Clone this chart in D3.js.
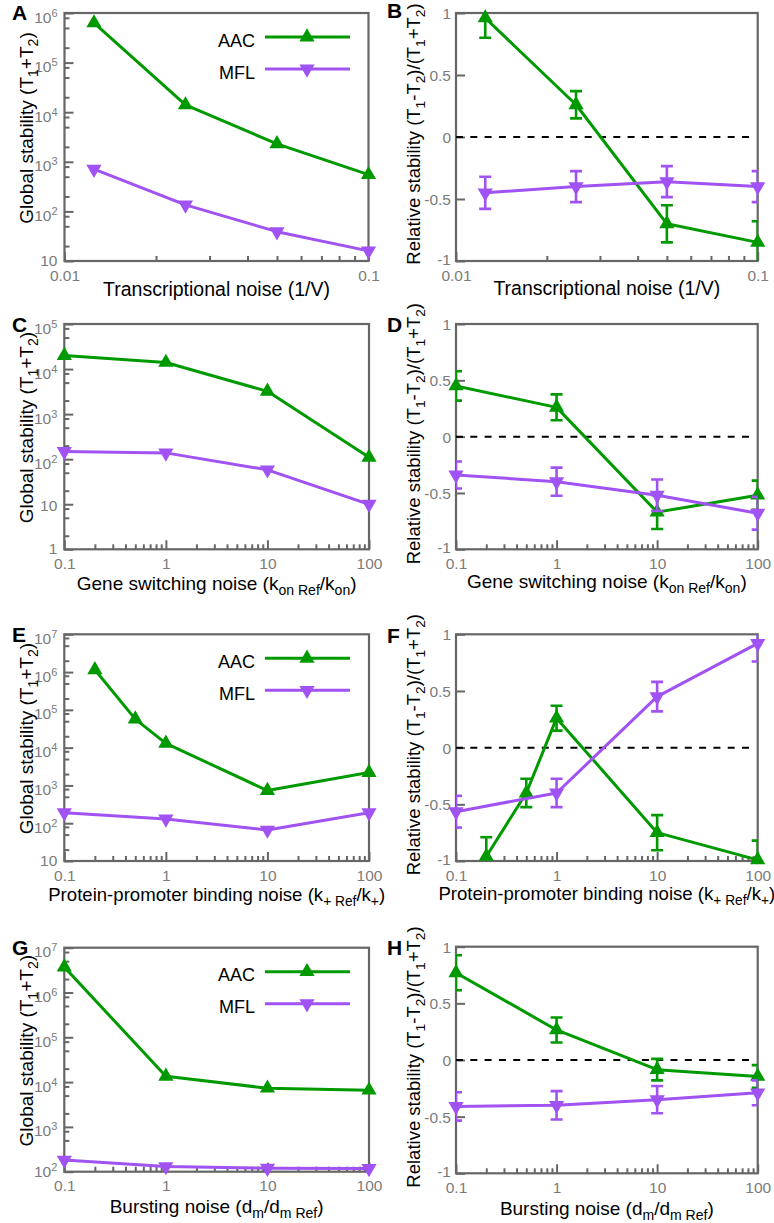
<!DOCTYPE html>
<html><head><meta charset="utf-8">
<script src="https://cdn.jsdelivr.net/npm/d3@7"></script>
<style>
body{margin:0;background:#fff}
text{font-family:"Liberation Sans",Arial,Helvetica,sans-serif;white-space:pre}
</style>
</head><body>
<svg id="c" width="774" height="1223"></svg>
<script>
// ---------------- data ----------------
const seriesNames = ["AAC", "MFL"];

// Panel A / B : transcriptional noise
const xTrans = [0.0125, 0.025, 0.05, 0.1];
const aacGlobalA = [6.3e5, 1.4e4, 2300, 550];
const mflGlobalA = [710, 135, 39, 16];
const aacRelB = [0.96, 0.26, -0.70, -0.85];
const aacErrB = [0.16, 0.11, 0.15, 0.17];
const mflRelB = [-0.45, -0.40, -0.36, -0.40];
const mflErrB = [0.13, 0.125, 0.125, 0.125];

// Panel C / D : gene switching noise
const xGene = [0.1, 1, 10, 100];
const aacGlobalC = [2.0e4, 1.4e4, 3200, 110];
const mflGlobalC = [148, 138, 58, 10];
const aacRelD = [0.45, 0.26, -0.67, -0.52];
const aacErrD = [0.13, 0.115, 0.15, 0.13];
const mflRelD = [-0.34, -0.40, -0.52, -0.68];
const mflErrD = [0.12, 0.125, 0.14, 0.145];

// Panel E / F : protein-promoter binding noise
const xProtAAC = [0.2, 0.5, 1, 10, 100];
const xProtMFL = [0.1, 1, 10, 100];
const aacGlobalE = [1.15e6, 5.7e4, 1.3e4, 730, 2200];
const mflGlobalE = [190, 130, 66, 190];
const aacRelF = [-0.96, -0.40, 0.26, -0.75, -0.99];
const aacErrF = [0.17, 0.125, 0.11, 0.155, 0.17];
const mflRelF = [-0.565, -0.40, 0.45, 0.92];
const mflErrF = [0.14, 0.125, 0.13, 0.16];

// Panel G / H : bursting noise
const xBurst = [0.1, 1, 10, 100];
const aacGlobalG = [3.7e6, 1.35e4, 7300, 6600];
const mflGlobalG = [182, 130, 120, 118];
const aacRelH = [0.77, 0.265, -0.085, -0.145];
const aacErrH = [0.155, 0.11, 0.095, 0.10];
const mflRelH = [-0.41, -0.40, -0.35, -0.29];
const mflErrH = [0.125, 0.125, 0.12, 0.11];

// tick values
const xTicksTrans = [0.01, 0.1];
const xTicksDec = [0.1, 1, 10, 100];
const yTicksRel = [-1, -0.5, 0, 0.5, 1];

// labels
const labelGlobal = [["Global stability (T","n"],["1","sub"],["+T","n"],["2","sub"],[")","n"]];
const labelRel = [["Relative stability (T","n"],["1","sub"],["-T","n"],["2","sub"],[")/(T","n"],["1","sub"],["+T","n"],["2","sub"],[")","n"]];
const xlabTrans = [["Transcriptional noise (1/V)","n"]];
const xlabGene = [["Gene switching noise (k","n"],["on Ref","sub"],["/k","n"],["on","sub"],[")","n"]];
const xlabProt = [["Protein-promoter binding noise (k","n"],["+ Ref","sub"],["/k","n"],["+","sub"],[")","n"]];
const xlabBurst = [["Bursting noise (d","n"],["m","sub"],["/d","n"],["m Ref","sub"],[")","n"]];

// ---------------- styles / layout ----------------
const GREEN = "#009a00", PURPLE = "#a052f2";
const FRAME = "#666666", TICKTXT = "#7b7b7b";

const panels = [
  {letter:"A", lx:12, ly:20, kind:"global", frame:[64.5,13,368.5,261], xd:[0.01,0.1], yd:[10,1e6], xt:xTicksTrans, xl:xlabTrans, xlY:296, xls:19.5, legend:true,
   s:[{x:xTrans,y:aacGlobalA,c:GREEN,up:true},{x:xTrans,y:mflGlobalA,c:PURPLE,up:false}]},
  {letter:"B", lx:387, ly:18, kind:"rel", frame:[456,13,757.7,261], xd:[0.01,0.1], yd:[-1,1], xt:xTicksTrans, xl:xlabTrans, xlY:295, xls:19.5,
   s:[{x:xTrans,y:aacRelB,e:aacErrB,c:GREEN,up:true},{x:xTrans,y:mflRelB,e:mflErrB,c:PURPLE,up:false}]},
  {letter:"C", lx:12, ly:332, kind:"global", frame:[64.3,324,369,549.3], xd:[0.1,100], yd:[1,1e5], xt:xTicksDec, xl:xlabGene, xlY:590, xls:19,
   s:[{x:xGene,y:aacGlobalC,c:GREEN,up:true},{x:xGene,y:mflGlobalC,c:PURPLE,up:false}]},
  {letter:"D", lx:387, ly:332, kind:"rel", frame:[456,324,757.7,549.3], xd:[0.1,100], yd:[-1,1], xt:xTicksDec, xl:xlabGene, xlY:588, xls:19,
   s:[{x:xGene,y:aacRelD,e:aacErrD,c:GREEN,up:true},{x:xGene,y:mflRelD,e:mflErrD,c:PURPLE,up:false}]},
  {letter:"E", lx:12, ly:642, kind:"global", frame:[64.3,634.3,369,861], xd:[0.1,100], yd:[10,1e7], xt:xTicksDec, xl:xlabProt, xlY:901, xls:18.6, legend:true,
   s:[{x:xProtAAC,y:aacGlobalE,c:GREEN,up:true},{x:xProtMFL,y:mflGlobalE,c:PURPLE,up:false}]},
  {letter:"F", lx:387, ly:643, kind:"rel", frame:[456,634.3,757.7,861], xd:[0.1,100], yd:[-1,1], xt:xTicksDec, xl:xlabProt, xlY:900, xls:18.6,
   s:[{x:xProtAAC,y:aacRelF,e:aacErrF,c:GREEN,up:true},{x:xProtMFL,y:mflRelF,e:mflErrF,c:PURPLE,up:false}]},
  {letter:"G", lx:12, ly:955, kind:"global", frame:[64.3,947.7,369,1171.7], xd:[0.1,100], yd:[100,1e7], xt:xTicksDec, xl:xlabBurst, xlY:1213, xls:19, legend:true,
   s:[{x:xBurst,y:aacGlobalG,c:GREEN,up:true},{x:xBurst,y:mflGlobalG,c:PURPLE,up:false}]},
  {letter:"H", lx:387, ly:955, kind:"rel", frame:[456,946.7,757.7,1173.3], xd:[0.1,100], yd:[-1,1], xt:xTicksDec, xl:xlabBurst, xlY:1215, xls:19,
   s:[{x:xBurst,y:aacRelH,e:aacErrH,c:GREEN,up:true},{x:xBurst,y:mflRelH,e:mflErrH,c:PURPLE,up:false}]}
];

const svg = d3.select("#c");

function rich(textSel, parts, size){
  let shift = 0;
  parts.forEach(([t,m])=>{
    const target = m==="sub" ? 4.5 : (m==="sup" ? -6 : 0);
    textSel.append("tspan").attr("dy", target-shift).attr("font-size", m==="n"?size:size*0.74).text(t);
    shift = target;
  });
}

function minorLog(domain, ks){
  const out=[];
  const lo=Math.floor(Math.log10(domain[0])), hi=Math.ceil(Math.log10(domain[1]));
  for(let e=lo;e<hi;e++) ks.forEach(k=>{const v=k*Math.pow(10,e); if(v>domain[0]*1.0001&&v<domain[1]*0.9999) out.push(v);});
  return out;
}

const tri = d3.symbol().type(d3.symbolTriangle).size(100);

panels.forEach(p=>{
  const [x0,y0,x1,y1] = p.frame;
  const x = d3.scaleLog().domain(p.xd).range([x0,x1]);
  const y = (p.kind==="global" ? d3.scaleLog() : d3.scaleLinear()).domain(p.yd).range([y1,y0]);
  const g = svg.append("g");
  const cid = "clip"+p.letter;
  g.append("clipPath").attr("id",cid).append("rect").attr("x",x0).attr("y",y0).attr("width",x1-x0).attr("height",y1-y0);

  // x axis (major + minor), ticks inward
  g.append("g").attr("transform",`translate(0,${y1})`)
    .call(d3.axisBottom(x).tickValues(p.xt).tickSize(-9).tickPadding(8.5).tickFormat(d=>String(d)));
  g.append("g").attr("transform",`translate(0,${y1})`)
    .call(d3.axisBottom(x).tickValues(minorLog(p.xd,[2,3,4,5,6,7,8,9])).tickSize(-5).tickFormat(""));
  // y axis
  let ya;
  if(p.kind==="global"){
    const lo=Math.log10(p.yd[0]), hi=Math.log10(p.yd[1]);
    const maj=d3.range(lo,hi+1).map(e=>Math.pow(10,e));
    ya = g.append("g").attr("transform",`translate(${x0},0)`)
      .call(d3.axisLeft(y).tickValues(maj).tickSize(-9).tickPadding(7).tickFormat(""));
    ya.selectAll(".tick text").each(function(d){
      const t=d3.select(this).attr("dy",null).attr("y",null);
      const e=Math.round(Math.log10(d));
      const bottom = Math.abs(d-p.yd[0])<1e-9;
      if(e===0){ t.attr("y",bottom?4:6).text("1"); }
      else if(e===1){ t.attr("y",bottom?4:6).text("10"); }
      else { t.attr("y",bottom?5:9); t.append("tspan").text("10"); t.append("tspan").attr("dy",-6).attr("font-size",11).text(String(e)); }
    });
    g.append("g").attr("transform",`translate(${x0},0)`)
      .call(d3.axisLeft(y).tickValues(minorLog(p.yd,[2,5,8])).tickSize(-5).tickFormat(""));
  } else {
    ya = g.append("g").attr("transform",`translate(${x0},0)`)
      .call(d3.axisLeft(y).tickValues(yTicksRel).tickSize(-9).tickPadding(5).tickFormat(d=>String(d)));
    ya.selectAll(".tick text").attr("dy",null).attr("y",d=>d===-1?3:5.5);
  }
  g.selectAll(".domain").remove();
  g.selectAll(".tick line").attr("stroke",FRAME).attr("stroke-width",2);
  g.selectAll(".tick text").attr("fill",TICKTXT).attr("font-size",15.5).attr("font-family",null);

  // frame
  g.append("rect").attr("x",x0).attr("y",y0).attr("width",x1-x0).attr("height",y1-y0)
    .attr("fill","none").attr("stroke",FRAME).attr("stroke-width",2.2);

  // zero line
  if(p.kind==="rel"){
    g.append("line").attr("x1",x0).attr("x2",x1-8).attr("y1",y(0)).attr("y2",y(0))
      .attr("stroke","#000").attr("stroke-width",2).attr("stroke-dasharray","7,7.3");
  }

  // series
  p.s.forEach(s=>{
    const pts = s.x.map((xv,i)=>({x:xv,y:s.y[i],e:s.e?s.e[i]:null}));
    g.append("path").datum(pts).attr("clip-path",`url(#${cid})`)
      .attr("fill","none").attr("stroke",s.c).attr("stroke-width",3).attr("stroke-linejoin","round")
      .attr("d",d3.line().x(d=>x(d.x)).y(d=>y(d.y)));
    if(s.e){
      const eb = g.append("g").attr("clip-path",`url(#${cid})`).attr("stroke",s.c).attr("stroke-width",2.6);
      pts.forEach(d=>{
        const xp=x(d.x), ya1=y(d.y+d.e), ya2=y(d.y-d.e);
        eb.append("line").attr("x1",xp).attr("x2",xp).attr("y1",ya1).attr("y2",ya2);
        eb.append("line").attr("x1",xp-6).attr("x2",xp+6).attr("y1",ya1).attr("y2",ya1);
        eb.append("line").attr("x1",xp-6).attr("x2",xp+6).attr("y1",ya2).attr("y2",ya2);
      });
    }
    g.selectAll(null).data(pts).join("path")
      .attr("d",tri).attr("fill",s.c)
      .attr("transform",d=>`translate(${x(d.x)},${y(d.y)})${s.up?"":" rotate(180)"}`);
  });

  // x label
  const xl = g.append("text").attr("x",(x0+x1)/2).attr("y",p.xlY).attr("text-anchor","middle").attr("fill","#000");
  rich(xl, p.xl, p.xls);
  // y label
  const isG = p.kind==="global";
  const lx = isG ? 33 : 420, lyc = (y0+y1)/2 + (isG ? -9 : -3);
  const yl = g.append("text").attr("transform",`translate(${lx},${lyc}) rotate(-90)`).attr("text-anchor","middle").attr("fill","#000");
  rich(yl, isG ? labelGlobal : labelRel, isG ? 19 : 18.5);

  // panel letter
  g.append("text").attr("x",p.lx).attr("y",p.ly).attr("font-size",21).attr("font-weight","bold").text(p.letter);

  // legend
  if(p.legend){
    p.s.forEach((s,i)=>{
      const ly = y0 + (i===0?24:56);
      g.append("text").attr("x",255).attr("y",ly+9.5).attr("text-anchor","end").attr("font-size",18).text(seriesNames[i]);
      g.append("line").attr("x1",265).attr("x2",350).attr("y1",ly).attr("y2",ly).attr("stroke",s.c).attr("stroke-width",3);
      g.append("path").attr("d",tri).attr("fill",s.c).attr("transform",`translate(307,${ly})${s.up?"":" rotate(180)"}`);
    });
  }
});
</script>
</body></html>
